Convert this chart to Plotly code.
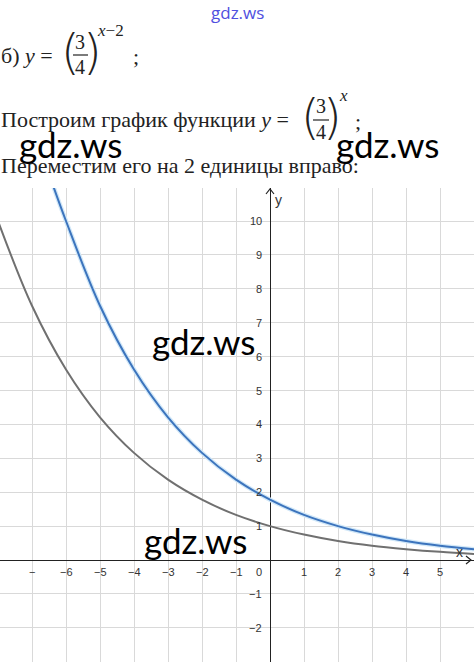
import plotly.graph_objects as go

# ---- data ----
x_base = [-8, -7, -6, -5, -4, -3, -2, -1, 0, 1, 2, 3, 4, 5, 6]
y_base = [10.0, 7.5, 5.62, 4.21, 3.16, 2.37, 1.78, 1.33, 1.0, 0.75, 0.56, 0.42, 0.32, 0.24, 0.18]
x_shift = [-6.4, -6, -5, -4, -3, -2, -1, 0, 1, 2, 3, 4, 5, 6]
y_shift = [11.1, 10.0, 7.5, 5.62, 4.21, 3.16, 2.37, 1.78, 1.33, 1.0, 0.75, 0.56, 0.42, 0.32]

x_tick_vals = [-7, -6, -5, -4, -3, -2, -1, 1, 2, 3, 4, 5]
x_tick_text = ["−", "−6", "−5", "−4", "−3", "−2", "−1", "1", "2", "3", "4", "5"]
y_tick_vals = [-2, -1, 1, 2, 3, 4, 5, 6, 7, 8, 9, 10]
y_tick_text = ["−2", "−1", "1", "2", "3", "4", "5", "6", "7", "8", "9", "10"]

W, H = 474, 662
TOP = 188
XR = [-270 / 34.0, 204 / 34.0]
YR = [-(662 - 560) / 33.9, (560 - TOP) / 33.9]


def P(px, py):
    return px / W, (H - py) / (H - TOP)


fig = go.Figure()
fig.add_trace(go.Scatter(x=x_base, y=y_base, mode="lines", line=dict(color="#707070", width=2, shape="spline"),
                         hoverinfo="skip"))
fig.add_trace(go.Scatter(x=x_shift, y=y_shift, mode="lines", line=dict(color="#d2e8f8", width=4.5, shape="spline"),
                         hoverinfo="skip"))
fig.add_trace(go.Scatter(x=x_shift, y=y_shift, mode="lines", line=dict(color="#3c74bd", width=2, shape="spline"),
                         hoverinfo="skip"))

ann = []
SERIF = "Liberation Serif"
SANS = "Liberation Sans"
TXT = "#222222"


def text(px, py, s, size=22, family=SERIF, color=TXT, xanchor="left", yanchor="middle", weight=None):
    x, y = P(px, py)
    f = dict(size=size, family=family, color=color)
    if weight is not None:
        f["weight"] = weight
    ann.append(dict(x=x, y=y, xref="paper", yref="paper", text=s, showarrow=False,
                    xanchor=xanchor, yanchor=yanchor, font=f))


# top watermark
text(237, 13, "gdz.ws", size=17, family="Open Sans", color="#5050e0", xanchor="center")

# line 1
text(-1, 55, "б) <i>y</i> =", size=22)
text(70, 52, "(", size=48, family="DejaVu Sans", xanchor="center", weight=200)
text(80, 42, "3", size=20, xanchor="center")
text(80, 67, "4", size=20, xanchor="center")
text(92, 52, ")", size=48, family="DejaVu Sans", xanchor="center", weight=200)
text(95, 30, "<i>x</i>−2", size=17)
text(131, 57, ";", size=22)

# line 2
text(-1, 120, "Построим график функции <i>y</i> =", size=22)
text(310, 117, "(", size=48, family="DejaVu Sans", xanchor="center", weight=200)
text(321, 106, "3", size=20, xanchor="center")
text(321, 132, "4", size=20, xanchor="center")
text(332, 117, ")", size=48, family="DejaVu Sans", xanchor="center", weight=200)
text(337, 95, "<i>x</i>", size=17)
text(353, 122, ";", size=22)

# line 3
text(-1, 166, "Переместим его на 2 единицы вправо:", size=22)

# big watermarks
for (cx, cy) in [(70, 144), (387, 144), (203, 341), (195, 540)]:
    text(cx, cy, "gdz.ws", size=35, family="Lato", color="#000000", xanchor="center")

# tick labels (data coords)
for v, t in zip(x_tick_vals, x_tick_text):
    ann.append(dict(x=v, y=0, xref="x", yref="y", text=t, showarrow=False, yshift=-12,
                    xanchor="center", yanchor="middle", font=dict(size=11, family=SANS, color="#333333")))
for v, t in zip(y_tick_vals, y_tick_text):
    ann.append(dict(x=0, y=v, xref="x", yref="y", text=t, showarrow=False, xshift=-6,
                    xanchor="right", yanchor="middle", font=dict(size=11, family=SANS, color="#333333")))
ann.append(dict(x=0, y=0, xref="x", yref="y", text="0", showarrow=False, xshift=-11, yshift=-12,
                xanchor="center", yanchor="middle", font=dict(size=11, family=SANS, color="#333333")))
ann.append(dict(x=0, y=YR[1], xref="x", yref="y", text="y", showarrow=False, xshift=8, yshift=-12,
                xanchor="center", yanchor="middle", font=dict(size=14, family=SANS, color="#333333")))
ann.append(dict(x=XR[1], y=0, xref="x", yref="y", text="x", showarrow=False, xshift=-15, yshift=8,
                xanchor="center", yanchor="middle", font=dict(size=14, family=SANS, color="#333333")))

shapes = [
    # fraction bars
    dict(type="line", xref="paper", yref="paper", x0=P(73, 0)[0], x1=P(88, 0)[0], y0=P(0, 55)[1], y1=P(0, 55)[1],
         line=dict(color=TXT, width=1.2)),
    dict(type="line", xref="paper", yref="paper", x0=P(313, 0)[0], x1=P(329, 0)[0], y0=P(0, 120)[1], y1=P(0, 120)[1],
         line=dict(color=TXT, width=1.2)),
    # axis arrows
    dict(type="path", xref="x", yref="y", xsizemode="pixel", ysizemode="pixel", xanchor=0, yanchor=YR[1],
         path="M -4 -6 L 0 -1 L 4 -6", line=dict(color="#222222", width=1.2)),
    dict(type="path", xref="x", yref="y", xsizemode="pixel", ysizemode="pixel", xanchor=XR[1], yanchor=0,
         path="M -8 4 L -3 0 L -8 -4", line=dict(color="#222222", width=1.2)),
]

fig.update_layout(
    width=W, height=H, margin=dict(l=0, r=0, t=TOP, b=0),
    paper_bgcolor="white", plot_bgcolor="white", showlegend=False,
    annotations=ann, shapes=shapes,
    xaxis=dict(range=XR, dtick=1, tick0=0, showgrid=True, gridcolor="#d9d9d9", gridwidth=1,
               zeroline=True, zerolinecolor="#222222", zerolinewidth=1.3, showticklabels=False, fixedrange=True),
    yaxis=dict(range=YR, dtick=1, tick0=0, showgrid=True, gridcolor="#d9d9d9", gridwidth=1,
               zeroline=True, zerolinecolor="#222222", zerolinewidth=1.3, showticklabels=False, fixedrange=True),
)

fig.write_html("out.html", config={"displayModeBar": False},
               post_script="document.body.style.margin='0';document.body.style.overflow='hidden';")
